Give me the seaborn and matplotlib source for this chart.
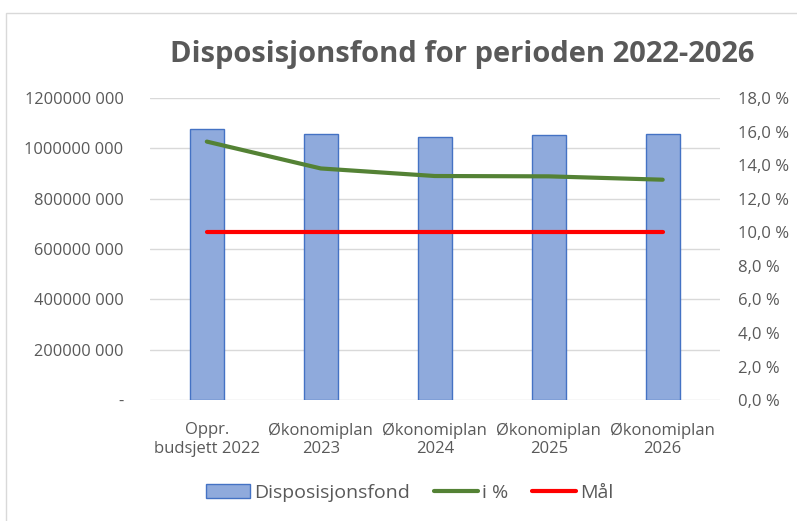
import numpy as np
import pandas as pd
import matplotlib
matplotlib.use("Agg")
import matplotlib.pyplot as plt
import seaborn as sns
from matplotlib.patches import Patch, Rectangle
from matplotlib.lines import Line2D

categories = ["Oppr.\nbudsjett 2022", "Økonomiplan\n2023", "Økonomiplan\n2024",
              "Økonomiplan\n2025", "Økonomiplan\n2026"]
fond = [1075e6, 1057e6, 1044e6, 1052e6, 1057e6]
i_prosent = [15.4, 13.8, 13.35, 13.33, 13.13]
maal = [10.0, 10.0, 10.0, 10.0, 10.0]

left_ticks = [0, 200e6, 400e6, 600e6, 800e6, 1000e6, 1200e6]
left_labels = ["-", "200000 000", "400000 000", "600000 000", "800000 000",
               "1000000 000", "1200000 000"]
right_ticks = [0, 2, 4, 6, 8, 10, 12, 14, 16, 18]

def main():
    sns.set_theme(style="white")
    plt.rcParams["font.family"] = ["Open Sans", "DejaVu Sans"]
    grey = "#595959"

    df = pd.DataFrame({"kategori": categories, "fond": fond})

    fig = plt.figure(figsize=(7.97, 5.21), dpi=100)
    ax = fig.add_axes([0.188, 0.232, 0.715, 0.58])

    sns.barplot(data=df, x="kategori", y="fond", ax=ax, color="#8FAADC",
                edgecolor="#4472C4", linewidth=1, width=0.3, saturation=1)
    ax.set_ylim(0, 1200e6)
    ax.set_xlim(-0.5, len(categories) - 0.5)
    ax.set_yticks(left_ticks)
    ax.set_yticklabels(left_labels, color=grey, fontsize=11.8)
    ax.set_xticklabels(categories, color=grey, fontsize=12)
    ax.set_xlabel("")
    ax.set_ylabel("")
    ax.grid(axis="y", color="#D9D9D9", linewidth=1)
    ax.set_axisbelow(True)
    for s in ax.spines.values():
        s.set_visible(False)
    ax.tick_params(axis="y", length=0, pad=19)
    ax.tick_params(axis="x", length=0, pad=16)

    ax2 = ax.twinx()
    x = np.arange(len(categories))
    sns.lineplot(x=x, y=i_prosent, ax=ax2, color="#548235", linewidth=3)
    sns.lineplot(x=x, y=maal, ax=ax2, color="#FF0000", linewidth=3)
    ax2.set_ylim(0, 18)
    ax2.set_yticks(right_ticks)
    ax2.set_yticklabels([f"{t:.1f} %".replace(".", ",") for t in right_ticks],
                        color=grey, fontsize=12)
    ax2.set_ylabel("")
    for s in ax2.spines.values():
        s.set_visible(False)
    ax2.tick_params(axis="y", length=0, pad=13)
    ax2.grid(False)

    fig.suptitle("Disposisjonsfond for perioden 2022-2026", x=0.58, y=0.895,
                 va="center", fontsize=21, fontweight="bold", color=grey)

    handles = [Patch(facecolor="#8FAADC", edgecolor="#4472C4"),
               Line2D([0], [0], color="#548235", linewidth=3),
               Line2D([0], [0], color="#FF0000", linewidth=3)]
    fig.legend(handles, ["Disposisjonsfond", "i %", "Mål"], loc="center",
               bbox_to_anchor=(0.514, 0.054), ncol=3, frameon=False,
               fontsize=14, labelcolor=grey, handlelength=2.3,
               handletextpad=0.2, columnspacing=1.2)

    fig.patches.append(Rectangle((0.008, -0.01), 1.0, 0.985, transform=fig.transFigure,
                                 fill=False, edgecolor="#D9D9D9", linewidth=1))

    fig.savefig("out.png", dpi=100)
    plt.close(fig)

if __name__ == "__main__":
    main()
